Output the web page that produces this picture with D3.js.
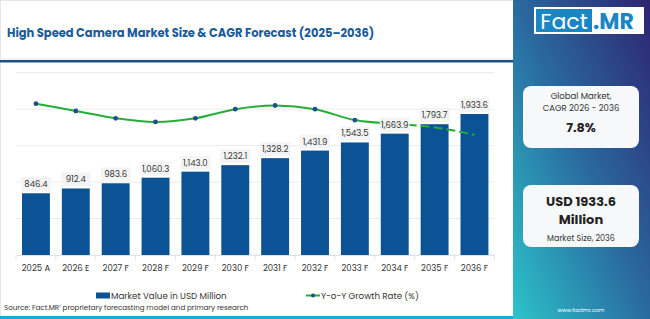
<!DOCTYPE html>
<html>
<head>
<meta charset="utf-8">
<script src="https://cdn.jsdelivr.net/npm/d3@7"></script>
<style>
  body { margin: 0; background: #fff; }
  svg { display: block; font-family: "Poppins", "Open Sans", "Noto Sans", sans-serif; }
</style>
</head>
<body>
<svg width="650" height="319"></svg>
<script>
var years = ["2025 A", "2026 E", "2027 F", "2028 F", "2029 F", "2030 F", "2031 F", "2032 F", "2033 F", "2034 F", "2035 F", "2036 F"];
var marketValue = [846.4, 912.4, 983.6, 1060.3, 1143.0, 1232.1, 1328.2, 1431.9, 1543.5, 1663.9, 1793.7, 1933.6];
var growthRate = [7.83, 7.79, 7.75, 7.73, 7.75, 7.80, 7.82, 7.80, 7.74, 7.72, 7.70, 7.66];
var yTicks = [0, 500, 1000, 1500, 2000, 2500];

var svg = d3.select("svg"),
    width = +svg.attr("width"),
    height = +svg.attr("height");

var plot = { left: 16, right: 494.4, top: 72.7, bottom: 255 };

var defs = svg.append("defs");
var grad = defs.append("linearGradient").attr("id", "panel-grad")
  .attr("x1", 0).attr("y1", 1).attr("x2", 1).attr("y2", 0);
grad.selectAll("stop")
  .data([
    { offset: "0%", color: "#2cc3c9" },
    { offset: "50%", color: "#2a6aa0" },
    { offset: "100%", color: "#2e2470" }
  ])
  .enter().append("stop")
  .attr("offset", d => d.offset)
  .attr("stop-color", d => d.color);

// frame
svg.append("rect").attr("x", 0.5).attr("y", 0.5).attr("width", 513).attr("height", 318)
  .attr("fill", "#fff").attr("stroke", "#e4e8ee");
svg.append("line").attr("x1", 0).attr("x2", 513).attr("y1", 59).attr("y2", 59).attr("stroke", "#e4e8ee");
svg.append("rect").attr("x", 0).attr("y", 60).attr("width", 513).attr("height", 2.5).attr("fill", "#1d4f86");
svg.append("rect").attr("x", 0).attr("y", 316).attr("width", 513).attr("height", 3).attr("fill", "#1ea7dc");

svg.append("text").attr("x", 7).attr("y", 36.5)
  .attr("font-size", 11.5).attr("font-weight", 700).attr("fill", "#1a5b9a")
  .text("High Speed Camera Market Size & CAGR Forecast (2025\u20132036)");

var x = d3.scaleBand().domain(years).range([plot.left, plot.right]).paddingInner(0.3).paddingOuter(0.15);
var y = d3.scaleLinear().domain([0, 2500]).range([plot.bottom, plot.top]);
var y2 = d3.scaleLinear().domain([7.0, 8.0]).range([plot.bottom, plot.top]);

var g = svg.append("g");

// gridlines
g.selectAll(".grid").data(yTicks).enter().append("line")
  .attr("x1", plot.left).attr("x2", plot.right)
  .attr("y1", d => y(d)).attr("y2", d => y(d))
  .attr("stroke", "#ebebeb").attr("stroke-width", 1);

// x axis
var xAxis = g.append("g").attr("transform", "translate(0," + plot.bottom + ")")
  .call(d3.axisBottom(x).tickSize(0).tickPadding(10));
xAxis.select(".domain").attr("stroke", "#e3e3e3");
xAxis.selectAll("text").attr("font-size", 8.5).attr("fill", "#333").attr("font-family", "Poppins, 'Open Sans', sans-serif");
g.selectAll(".xtick").data(years.concat([null])).enter().append("line")
  .attr("x1", (d, i) => plot.left + i * x.step())
  .attr("x2", (d, i) => plot.left + i * x.step())
  .attr("y1", plot.bottom).attr("y2", plot.bottom + 5)
  .attr("stroke", "#e3e3e3");

// bars
g.selectAll(".bar").data(marketValue).enter().append("rect")
  .attr("x", (d, i) => x(years[i]))
  .attr("y", d => y(d))
  .attr("width", x.bandwidth())
  .attr("height", d => y(0) - y(d))
  .attr("fill", "#0b5394");

// growth line
var pts = growthRate.map((d, i) => [x(years[i]) + x.bandwidth() / 2, y2(d)]);
var line = d3.line().curve(d3.curveMonotoneX);
g.append("path").attr("d", line(pts.slice(0, 10)))
  .attr("fill", "none").attr("stroke", "#25ad3a").attr("stroke-width", 2);
g.append("path").attr("d", line(pts.slice(9)))
  .attr("fill", "none").attr("stroke", "#25ad3a").attr("stroke-width", 2).attr("stroke-dasharray", "9,4");
g.selectAll(".dot").data(pts.slice(0, 10)).enter().append("circle")
  .attr("cx", d => d[0]).attr("cy", d => d[1]).attr("r", 2.4).attr("fill", "#1d4f8c");

// value labels
var fmt = d3.format(",.1f");
var lab = g.selectAll(".lab").data(marketValue).enter().append("g")
  .attr("transform", (d, i) => "translate(" + (x(years[i]) + x.bandwidth() / 2) + "," + (y(d) - 9) + ")");
lab.append("rect").attr("x", -15).attr("y", -7).attr("width", 30).attr("height", 14)
  .attr("fill", "#f3f3f3").attr("opacity", 0.9);
lab.append("text").attr("text-anchor", "middle").attr("dy", "0.35em")
  .attr("font-size", 8.5).attr("fill", "#333").text(d => fmt(d));

// legend
var leg = svg.append("g");
leg.append("rect").attr("x", 96).attr("y", 292.5).attr("width", 14).attr("height", 6).attr("fill", "#0b5394");
leg.append("text").attr("x", 111).attr("y", 299).attr("font-size", 8.7).attr("fill", "#333").text("Market Value in USD Million");
leg.append("line").attr("x1", 306).attr("x2", 320).attr("y1", 295.5).attr("y2", 295.5).attr("stroke", "#25ad3a").attr("stroke-width", 2);
leg.append("circle").attr("cx", 313).attr("cy", 295.5).attr("r", 2).attr("fill", "#1d4f8c");
leg.append("text").attr("x", 321).attr("y", 299).attr("font-size", 8.7).attr("fill", "#333").text("Y-o-Y Growth Rate (%)");

svg.append("text").attr("x", 4).attr("y", 310).attr("font-size", 7.1).attr("fill", "#333")
  .text("Source: Fact.MR\u2019 proprietary forecasting model and primary research");

// right panel
var panel = svg.append("g").attr("transform", "translate(513,0)");
panel.append("rect").attr("width", 137).attr("height", 319).attr("fill", "url(#panel-grad)");
panel.append("rect").attr("x", 21).attr("y", 7).attr("width", 110).attr("height", 27).attr("fill", "#fff");
panel.append("rect").attr("x", 23).attr("y", 9).attr("width", 56).attr("height", 23).attr("fill", "#1a86c4");
panel.append("text").attr("x", 51).attr("y", 29).attr("text-anchor", "middle").attr("font-size", 22)
  .attr("fill", "#fff").text("Fact");
panel.append("text").attr("x", 80).attr("y", 29).attr("font-size", 22).attr("font-weight", 700)
  .attr("fill", "#1a86c4").text(".MR");

panel.append("rect").attr("x", 10).attr("y", 86).attr("width", 116).attr("height", 62).attr("rx", 8).attr("fill", "#f7f8fa");
panel.append("text").attr("x", 68).attr("y", 98.5).attr("text-anchor", "middle").attr("font-size", 8.5).attr("fill", "#333").text("Global Market,");
panel.append("text").attr("x", 68).attr("y", 110.5).attr("text-anchor", "middle").attr("font-size", 8.5).attr("fill", "#333").text("CAGR 2026 - 2036");
panel.append("text").attr("x", 68).attr("y", 132).attr("text-anchor", "middle").attr("font-size", 12.7).attr("font-weight", 700).attr("fill", "#222").text("7.8%");

panel.append("rect").attr("x", 10).attr("y", 185).attr("width", 116).attr("height", 62).attr("rx", 8).attr("fill", "#f7f8fa");
panel.append("text").attr("x", 68).attr("y", 206).attr("text-anchor", "middle").attr("font-size", 13).attr("font-weight", 700).attr("fill", "#222").text("USD 1933.6");
panel.append("text").attr("x", 68).attr("y", 224).attr("text-anchor", "middle").attr("font-size", 13).attr("font-weight", 700).attr("fill", "#222").text("Million");
panel.append("text").attr("x", 68).attr("y", 241).attr("text-anchor", "middle").attr("font-size", 8).attr("fill", "#333").text("Market Size, 2036");

panel.append("text").attr("x", 68).attr("y", 312).attr("text-anchor", "middle").attr("font-size", 5.5).attr("fill", "#fff").text("www.factmr.com");
</script>
</body>
</html>
